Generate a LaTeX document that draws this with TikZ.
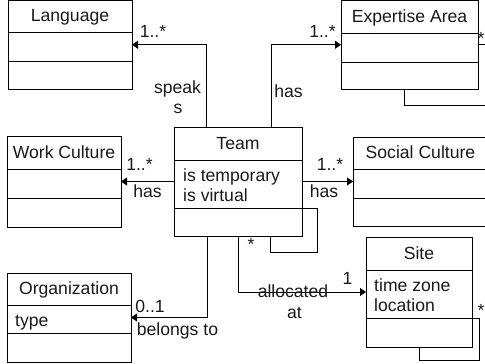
\documentclass[tikz,border=0pt]{standalone}
\usepackage{fontspec}
\setmainfont{Liberation Sans}
\usetikzlibrary{arrows.meta}

% A UML class: name, x, y (top-left), width, height,
% offsets of the two compartment lines, title
\newcommand\umlclass[8]{%
  \node[classbox, minimum width=#4pt, minimum height=#5pt] (#1) at (#2,#3) {};
  \draw[classline] ([yshift=-#6pt]#1.north west) -- ([yshift=-#6pt]#1.north east);
  \draw[classline] ([yshift=-#7pt]#1.north west) -- ([yshift=-#7pt]#1.north east);
  \node[lbl, anchor=base] (#1-title) at ([yshift={-(#6)/2*1pt-5.5pt}]#1.north) {#8};
}

\begin{document}
\begin{tikzpicture}[x=1pt, y=-1pt,
  classbox/.style={draw, line width=1pt, inner sep=0pt, outer sep=0pt, anchor=north west},
  classline/.style={line width=1pt},
  lbl/.style={font=\fontsize{17.6}{20}\selectfont, inner sep=0pt, text=black!90},
  attr/.style={lbl, anchor=base west},
  assoc/.style={draw, line width=0.8pt, -{Triangle[length=6pt,width=8pt]}},
  selfassoc/.style={draw, line width=0.8pt},
  ]
\useasboundingbox (0,0) rectangle (485,364);

% classes
\umlclass{lang}{8}{0.5}{124}{88.5}{31.5}{60.5}{Language}
\umlclass{exp}{341}{0.5}{137}{88.5}{32.5}{61.5}{Expertise Area}
\umlclass{work}{7}{136}{114}{91}{33}{62}{Work Culture}
\umlclass{team}{174}{127}{128}{109}{33}{81}{Team}
\umlclass{social}{353}{137}{135}{89}{32}{61}{Social Culture}
\umlclass{org}{7}{273}{124}{89}{32}{60}{Organization}
\umlclass{site}{366}{237}{106}{110}{33}{81}{Site}

% attributes
\node[attr] (team-a1) at (183,181) {is temporary};
\node[attr] (team-a2) at (183,201) {is virtual};
\node[attr] (org-a1) at (15,326) {type};
\node[attr] (site-a1) at (374,291) {time zone};
\node[attr] (site-a2) at (374,311) {location};

% associations
\draw[assoc] ([xshift=32pt]team.north west) |- (lang.east);
\draw[assoc] ([xshift=97pt]team.north west) |- (exp.west);
\draw[assoc] (team.west |- work.east) -- (work.east);
\draw[assoc] (team.east |- social.west) -- (social.west);
\draw[assoc] ([xshift=33pt]team.south west) |- (org.east);
\draw[assoc] ([xshift=64pt]team.south west) |- (site.west);

% reflexive associations
\draw[selfassoc] ([yshift=-81pt]team.north east) -| ([xshift=15pt,yshift=-16pt]team.south east)
  -| ([xshift=96pt]team.south west);
\draw[selfassoc] (exp.east) -| ([xshift=12pt,yshift=-16pt]exp.south east)
  -| ([xshift=63pt]exp.south west);
\draw[selfassoc] ([yshift=-81pt]site.north east) -| ([xshift=7pt,yshift=-13pt]site.south east)
  -| ([xshift=53pt]site.south west);

% association labels and multiplicities
\node[lbl, anchor=base] (m-lang) at (153,37) {1..*};
\node[lbl, anchor=base] (n-speak1) at (177.5,93) {speak};
\node[lbl, anchor=base] (n-speak2) at (178,113) {s};
\node[lbl, anchor=base] (m-exp) at (322.5,37) {1..*};
\node[lbl, anchor=base] (n-has1) at (288.5,97) {has};
\node[lbl, anchor=base] (m-work) at (139.5,170) {1..*};
\node[lbl, anchor=base] (n-has2) at (147.5,197) {has};
\node[lbl, anchor=base] (m-social) at (330,170) {1..*};
\node[lbl, anchor=base] (n-has3) at (324,197) {has};
\node[lbl, anchor=base] (m-org) at (150,312) {0..1};
\node[lbl, anchor=base] (n-belongs) at (177.5,335) {belongs to};
\node[lbl, anchor=base] (m-site) at (347.5,284) {1};
\node[lbl, anchor=base] (n-alloc1) at (293,297) {allocated};
\node[lbl, anchor=base] (n-alloc2) at (294.5,318) {at};
\node[lbl] (s-team) at (251,244) {*};
\node[lbl] (s-exp) at (481,38) {*};
\node[lbl] (s-site) at (481,310) {*};
\end{tikzpicture}
\end{document}
